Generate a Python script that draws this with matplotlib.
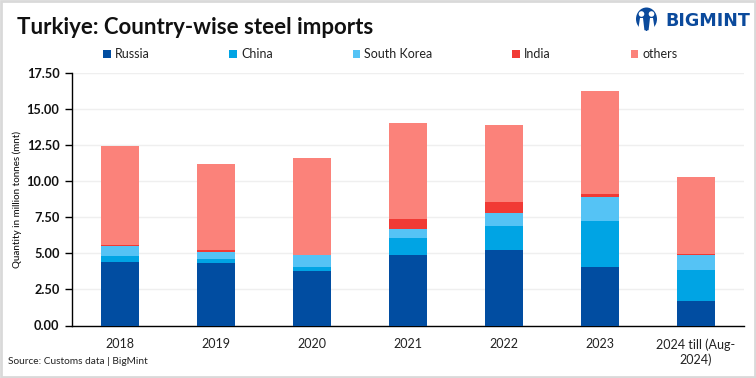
import matplotlib
matplotlib.use("Agg")
import matplotlib.pyplot as plt
from matplotlib.patches import Circle, Ellipse, Rectangle, Polygon
import numpy as np

plt.rcParams['font.family'] = ['Lato', 'DejaVu Sans']

categories = ['2018', '2019', '2020', '2021', '2022', '2023', '2024 till (Aug-\n2024)']
russia = [4.40, 4.33, 3.78, 4.88, 5.23, 4.05, 1.70]
china = [0.42, 0.27, 0.27, 1.18, 1.67, 3.19, 2.15]
south_korea = [0.68, 0.50, 0.83, 0.62, 0.90, 1.66, 1.03]
india = [0.05, 0.10, 0.00, 0.70, 0.76, 0.22, 0.07]
others = [6.90, 6.00, 6.72, 6.67, 5.33, 7.13, 5.35]
yticks = [0, 2.5, 5, 7.5, 10, 12.5, 15, 17.5]

names = ['Russia', 'China', 'South Korea', 'India', 'others']
colors = ['#014DA1', '#00A4E4', '#55C3F5', '#F13A35', '#FB827A']
series = [russia, china, south_korea, india, others]

W, H = 756, 378
fig = plt.figure(figsize=(W/100, H/100), dpi=100, facecolor='white')
ax = fig.add_axes([72/W, 1-325.5/H, 672/W, 252.5/H])

x = np.arange(len(categories))
bottom = np.zeros(len(categories))
for name, color, vals in zip(names, colors, series):
    ax.bar(x, vals, width=0.396, bottom=bottom, color=color, label=name, zorder=3)
    bottom = bottom + np.array(vals)

ax.set_xlim(-0.5, 6.5)
ax.set_ylim(0, 17.5)
ax.set_yticks(yticks)
ax.set_yticklabels([f'{v:.2f}' for v in yticks], fontsize=9.2, fontweight='bold', color='#111111')
ax.set_xticks(x)
ax.set_xticklabels(categories, fontsize=9, color='#222222', linespacing=1.25)
ax.tick_params(axis='x', length=0, pad=9)
ax.tick_params(axis='y', length=5, width=1, color='black', pad=4)
ax.grid(axis='y', color='#EFEFEF', lw=1, zorder=0)
ax.set_axisbelow(True)
for s in ['top', 'right']:
    ax.spines[s].set_visible(False)
for s in ['left', 'bottom']:
    ax.spines[s].set_color('black')
    ax.spines[s].set_linewidth(1)

fig.text(17/W, 1-199/H, 'Quantity in million tonnes (mnt)', rotation=90, fontsize=7,
         ha='center', va='center', color='#111111', fontweight='medium')

fig.text(17/W, 1-27/H, 'Turkiye: Country-wise steel imports', fontsize=16, fontweight='bold',
         ha='left', va='center', color='#111111')
fig.text(8/W, 1-362/H, 'Source: Customs data | BigMint', fontsize=7.3, ha='left', va='center',
         color='#222222')

leg = ax.legend(loc='center left', bbox_to_anchor=(103/W, 1-54/H), bbox_transform=fig.transFigure,
                ncol=5, frameon=False, fontsize=9, handlelength=0.62, handleheight=0.62,
                handletextpad=0.3, columnspacing=6.4, borderpad=0, borderaxespad=0)
for t in leg.get_texts():
    t.set_color('#222222')

# logo
BLUE = '#0B4A9C'
logo = fig.add_axes([0, 0, 1, 1], facecolor='none')
logo.set_xlim(0, W)
logo.set_ylim(H, 0)
logo.axis('off')
logo.add_patch(Ellipse((646.5, 19), 21, 23, fc=BLUE, ec='none'))
logo.add_patch(Circle((641.5, 14), 2.8, fc='white', ec='none'))
logo.add_patch(Circle((651.5, 14), 2.8, fc='white', ec='none'))
logo.add_patch(Polygon([(640, 18), (643, 18), (644.5, 31), (638, 31)], fc='white', ec='none'))
logo.add_patch(Polygon([(650, 18), (653, 18), (655, 31), (648.5, 31)], fc='white', ec='none'))
logo.add_patch(Rectangle((645.7, 17), 1.6, 14, fc=BLUE, ec='none'))
logo.text(665, 21.5, 'BIGMINT', fontsize=12.6, fontweight='bold', color=BLUE, ha='left', va='center',
          fontfamily=['DejaVu Sans'])
logo.add_patch(Rectangle((0.5, 0.5), W-2, H-2, fc='none', ec='#D9D9D9', lw=2))

fig.savefig('out.png', dpi=100, facecolor='white')
